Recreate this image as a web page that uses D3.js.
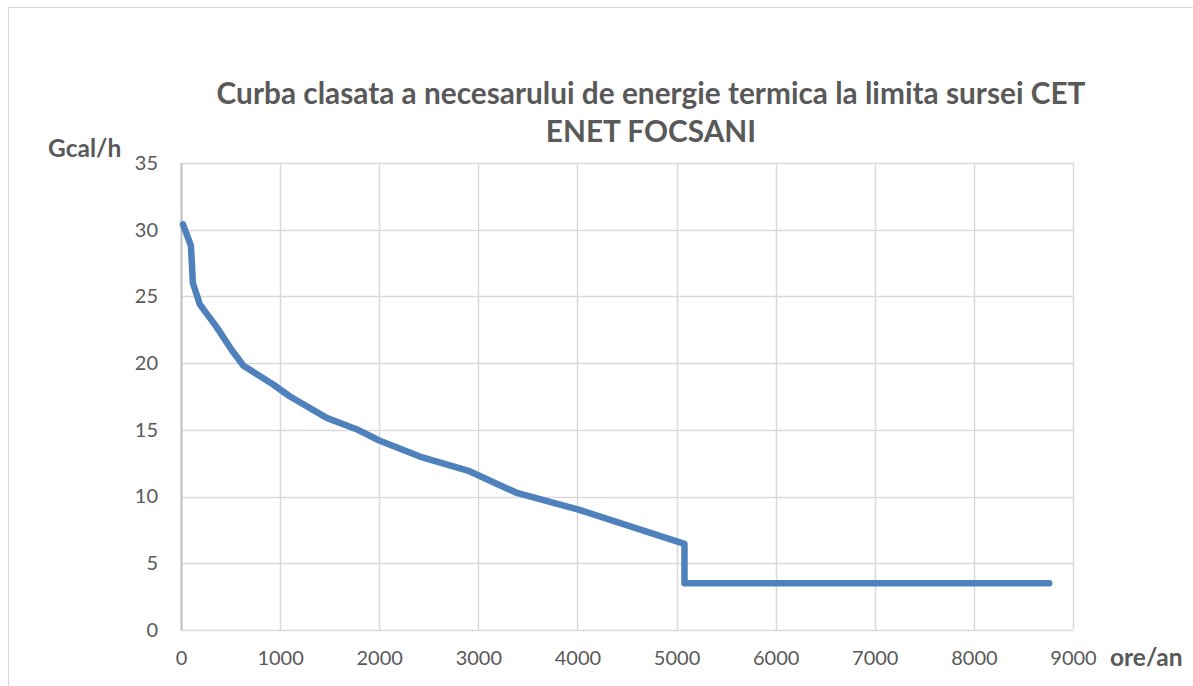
<!DOCTYPE html>
<html>
<head>
<meta charset="utf-8">
<script src="https://cdn.jsdelivr.net/npm/d3@7"></script>
<style>
  body { margin: 0; background: #fff; }
  svg text { font-family: Lato, "Open Sans", sans-serif; fill: #595959; }
</style>
</head>
<body>
<div id="chart"></div>
<script>
// values
var hours = [20, 100, 120, 190, 360, 510, 630, 930, 1100, 1470, 1770, 2000, 2410, 2910, 3380, 4020, 5080, 5080, 8760];
var gcal  = [30.4, 28.8, 26.0, 24.4, 22.7, 21.0, 19.8, 18.4, 17.5, 15.9, 15.05, 14.2, 13.0, 11.9, 10.3, 9.0, 6.45, 3.5, 3.5];
var xTicks = [0, 1000, 2000, 3000, 4000, 5000, 6000, 7000, 8000, 9000];
var yTicks = [0, 5, 10, 15, 20, 25, 30, 35];
var titleLines = ["Curba clasata a necesarului de energie termica la limita sursei CET", "ENET FOCSANI"];

var W = 1193, H = 686;
var margin = {top: 163, right: 120, bottom: 56, left: 181};
var width = W - margin.left - margin.right;
var height = H - margin.top - margin.bottom;

var svg = d3.select("#chart").append("svg")
    .attr("width", W)
    .attr("height", H);

// chart frame
svg.append("rect")
    .attr("x", 8.5).attr("y", 7.5)
    .attr("width", W + 20).attr("height", H + 20)
    .attr("fill", "none")
    .attr("stroke", "#d9d9d9");

var x = d3.scaleLinear().domain([0, 9000]).range([0, width]);
var y = d3.scaleLinear().domain([0, 35]).range([height, 0]);

var g = svg.append("g")
    .attr("transform", "translate(" + margin.left + "," + margin.top + ")");

// gridlines
g.selectAll(".hgrid").data(yTicks).enter().append("line")
    .attr("x1", 0).attr("x2", width)
    .attr("y1", function(d) { return Math.round(y(d)) + 0.5; })
    .attr("y2", function(d) { return Math.round(y(d)) + 0.5; })
    .attr("stroke", "#d9d9d9").attr("stroke-width", 1.5);

g.selectAll(".vgrid").data(xTicks).enter().append("line")
    .attr("y1", 0).attr("y2", height)
    .attr("x1", function(d) { return Math.round(x(d)) + 0.5; })
    .attr("x2", function(d) { return Math.round(x(d)) + 0.5; })
    .attr("stroke", function(d) { return d === 0 ? "#bfbfbf" : "#d9d9d9"; })
    .attr("stroke-width", function(d) { return d === 0 ? 2 : 1.5; });

// axes (labels only)
var axisX = d3.axisBottom(x).tickValues(xTicks).tickSize(0).tickPadding(21).tickFormat(d3.format("d"));
var axisY = d3.axisLeft(y).tickValues(yTicks).tickSize(0).tickPadding(23);

g.append("g")
    .attr("class", "axis axis--x")
    .attr("transform", "translate(0," + height + ")")
    .call(axisX)
    .call(function(s) { s.select(".domain").remove(); });

g.append("g")
    .attr("class", "axis axis--y")
    .call(axisY)
    .call(function(s) { s.select(".domain").remove(); });

g.selectAll(".axis text")
    .style("font-size", "20px")
    .style("font-family", "Lato, 'Open Sans', sans-serif")
    .attr("fill", "#595959");

// curve
var pts = hours.map(function(h, i) { return {h: h, v: gcal[i]}; });
var line = d3.line()
    .x(function(d) { return x(d.h); })
    .y(function(d) { return y(d.v); });

g.append("path")
    .datum(pts)
    .attr("d", line)
    .attr("fill", "none")
    .attr("stroke", "#4f81bd")
    .attr("stroke-width", 6.5)
    .attr("stroke-linejoin", "round")
    .attr("stroke-linecap", "round");

// title
svg.selectAll(".title").data(titleLines).enter().append("text")
    .attr("class", "title")
    .attr("x", 651)
    .attr("y", function(d, i) { return 104 + i * 38; })
    .attr("text-anchor", "middle")
    .style("font-size", "29.8px")
    .style("font-weight", "bold")
    .text(function(d) { return d; });

// axis titles
svg.append("text")
    .attr("x", 48).attr("y", 157)
    .style("font-size", "24.5px")
    .style("font-weight", "bold")
    .text("Gcal/h");

svg.append("text")
    .attr("x", 1110).attr("y", 666)
    .style("font-size", "24.5px")
    .style("font-weight", "bold")
    .text("ore/an");
</script>
</body>
</html>
